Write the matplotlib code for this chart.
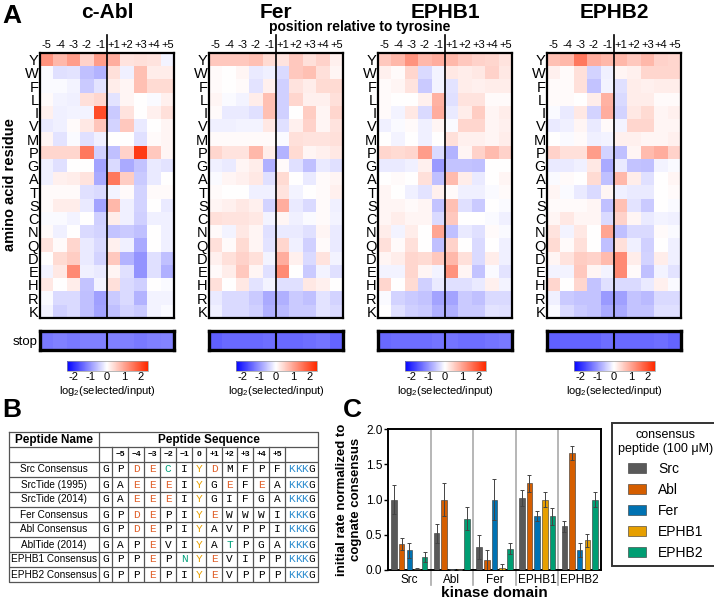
import numpy as np
import matplotlib
matplotlib.use("Agg")
import matplotlib.pyplot as plt
from matplotlib.colors import LinearSegmentedColormap

plt.rcParams['font.family'] = ['Liberation Sans', 'DejaVu Sans']
plt.rcParams['mathtext.default'] = 'regular'
plt.rcParams['axes.unicode_minus'] = False

# ---------------- data ----------------
residues = list("YWFLIVMPGATSCNQDEHRK")
positions = ['-5', '-4', '-3', '-2', '-1', '+1', '+2', '+3', '+4', '+5']
kinases = ['c-Abl', 'Fer', 'EPHB1', 'EPHB2']

# log2(selected/input), rows = residues, cols = positions
abl_scores = [
    [1.2, 0.8, 1.1, 0.5, 1.1, 0.9, 0.3, 0.35, 0.3, -0.1],
    [-0.05, -0.3, -0.25, -0.6, -0.7, 0.35, -0.15, 0.7, 0.2, 0.2],
    [-0.05, -0.05, -0.1, -0.5, -0.25, 0.2, 0.1, 0.7, 0.4, 0.4],
    [0.05, -0.1, -0.15, 0.35, 0.45, -0.25, 0.1, 0.0, -0.05, 0.15],
    [0.15, -0.15, -0.1, -0.1, 2.0, -0.5, 0.3, 0.0, 0.15, 0.35],
    [-0.2, -0.15, 0.05, 0.25, 0.65, -0.4, 0.6, -0.2, 0.0, 0.1],
    [0.1, -0.25, -0.05, -0.3, -0.15, 0.0, 0.0, -0.3, 0.05, 0.1],
    [0.45, 0.45, 0.45, 1.5, -0.45, -0.6, 0.5, 2.2, 0.6, 0.1],
    [-0.15, -0.3, 0.0, 0.0, -0.85, -0.35, -0.8, -0.55, -0.2, -0.25],
    [-0.15, 0.15, 0.2, 0.3, -0.8, 1.5, 0.55, -0.5, -0.2, 0.0],
    [0.05, 0.05, 0.05, -0.3, -0.35, -0.1, 0.05, -0.4, 0.05, 0.05],
    [0.05, 0.2, 0.2, -0.2, -0.85, 0.8, -0.15, -0.4, 0.0, -0.2],
    [-0.05, -0.05, -0.1, 0.0, -0.45, 0.2, -0.15, -0.45, -0.15, -0.15],
    [0.05, -0.15, 0.0, -0.35, -0.4, -0.55, -0.5, -0.6, 0.0, -0.15],
    [0.3, 0.05, 0.45, -0.2, -0.35, 0.15, -0.15, -0.8, 0.0, -0.15],
    [0.0, 0.4, 0.55, -0.2, -0.4, 0.6, -0.7, -1.0, -0.3, -0.6],
    [-0.1, 0.25, 1.3, -0.15, -0.2, 0.1, -0.3, -1.0, -0.3, -0.75],
    [0.25, 0.0, 0.2, -0.55, -0.1, 0.35, -0.35, -0.45, 0.0, -0.05],
    [-0.05, -0.35, -0.35, -0.6, -0.9, -0.5, -0.35, -0.7, -0.1, -0.1],
    [-0.1, -0.45, -0.35, -0.6, -0.85, -0.6, -0.4, -0.5, -0.1, -0.05],
]
fer_scores = [
    [0.6, 0.6, 0.6, 0.7, 0.4, 0.3, 0.6, 0.35, 0.5, 0.15],
    [0.05, 0.0, 0.1, -0.2, -0.15, -0.35, 0.6, 0.7, 0.35, 0.1],
    [0.05, 0.0, 0.05, -0.25, 0.15, -0.45, 0.3, 0.2, 0.4, 0.4],
    [0.1, -0.05, -0.1, 0.2, 0.7, -0.45, 0.45, 0.15, 0.15, 0.35],
    [0.05, -0.2, -0.2, -0.3, 0.7, -0.45, 0.0, 0.55, 0.1, 0.45],
    [-0.15, -0.15, -0.1, -0.1, 0.25, -0.3, 0.15, 0.5, 0.1, 0.3],
    [0.05, 0.05, 0.05, 0.05, 0.05, -0.05, 0.35, 0.3, 0.3, 0.35],
    [0.45, 0.3, 0.3, 0.8, 0.2, -0.7, 0.4, 0.1, 0.15, 0.25],
    [-0.15, -0.2, 0.1, 0.2, -0.75, 0.05, -0.3, -0.6, -0.2, -0.3],
    [-0.05, 0.1, 0.15, 0.25, -0.3, 0.4, 0.0, -0.2, 0.05, 0.1],
    [0.05, 0.0, 0.0, -0.15, -0.15, 0.3, -0.1, 0.0, 0.05, 0.15],
    [0.1, 0.15, 0.25, 0.15, -0.4, 0.9, -0.2, -0.35, 0.05, -0.15],
    [0.35, 0.3, 0.3, 0.25, -0.1, 0.1, -0.15, -0.05, 0.05, -0.1],
    [0.05, -0.1, 0.25, 0.1, -0.3, -0.2, -0.2, -0.3, 0.1, -0.2],
    [0.35, 0.05, 0.4, 0.1, -0.25, 0.45, -0.15, -0.45, 0.05, -0.2],
    [0.15, 0.35, 0.5, 0.35, -0.1, 0.9, 0.15, -0.35, 0.3, -0.1],
    [0.05, 0.2, 0.6, 0.1, -0.3, 1.3, 0.0, -0.5, -0.1, -0.3],
    [0.35, 0.0, 0.25, -0.25, -0.1, -0.3, -0.3, 0.25, 0.15, 0.0],
    [-0.2, -0.35, -0.35, -0.5, -0.8, -0.75, -0.5, -0.6, -0.25, -0.4],
    [-0.15, -0.35, -0.35, -0.45, -0.75, -0.65, -0.5, -0.5, -0.25, -0.35],
]
ephb1_scores = [
    [0.6, 0.8, 1.2, 0.8, 0.9, 0.8, 0.6, 0.5, 0.45, 0.3],
    [0.15, 0.05, 0.45, -0.35, -0.1, 0.25, 0.2, 0.25, 0.5, 0.25],
    [0.05, 0.1, 0.3, -0.5, -0.1, -0.25, 0.2, 0.15, 0.2, 0.2],
    [0.05, 0.0, 0.0, 0.15, 0.85, -0.3, 0.3, 0.3, 0.05, 0.05],
    [0.05, -0.1, 0.25, -0.35, 0.9, -0.2, 0.2, 0.55, 0.1, 0.2],
    [-0.15, -0.05, 0.05, -0.15, 0.1, -0.05, 0.45, 0.45, 0.1, 0.15],
    [0.0, -0.1, 0.0, -0.15, 0.0, 0.35, 0.15, 0.15, 0.1, 0.2],
    [0.45, 0.4, 0.45, 1.1, -0.35, -0.7, 0.1, 0.5, 0.75, 0.5],
    [-0.2, -0.2, -0.15, 0.15, -0.95, -0.55, -0.55, -0.6, 0.0, 0.0],
    [0.0, 0.05, 0.0, 0.35, -0.6, 0.75, 0.2, -0.2, 0.0, 0.1],
    [0.1, 0.0, -0.15, -0.25, 0.15, 0.05, -0.15, -0.15, -0.05, 0.05],
    [0.1, 0.1, 0.05, 0.1, -0.55, 0.7, -0.3, -0.5, 0.0, -0.05],
    [0.1, 0.2, 0.1, 0.1, -0.35, 0.6, 0.0, 0.0, -0.05, -0.15],
    [0.2, -0.1, 0.2, 0.0, 1.0, -0.6, -0.2, -0.3, 0.05, -0.05],
    [0.35, 0.05, 0.35, 0.0, -0.6, 0.5, 0.0, -0.35, 0.0, -0.15],
    [0.1, 0.2, 0.45, 0.4, 0.6, 0.8, 0.35, -0.35, 0.2, -0.15],
    [-0.1, -0.1, 0.45, 0.1, -0.1, 1.2, 0.1, -0.55, -0.05, -0.25],
    [0.45, 0.0, 0.4, -0.45, -0.2, -0.3, -0.3, -0.2, 0.15, -0.1],
    [-0.05, -0.4, -0.5, -0.55, -0.85, -0.85, -0.5, -0.6, -0.35, -0.35],
    [0.0, -0.3, -0.45, -0.5, -0.75, -0.75, -0.5, -0.5, -0.25, -0.3],
]
ephb2_scores = [
    [0.7, 0.8, 1.5, 0.9, 0.8, 0.8, 0.6, 0.8, 0.5, 0.45],
    [0.15, 0.05, 0.35, -0.4, -0.15, 0.1, 0.15, 0.45, 0.45, 0.45],
    [0.05, 0.05, 0.35, -0.55, -0.1, -0.3, 0.2, 0.15, 0.2, 0.2],
    [0.05, 0.05, 0.0, 0.2, 0.85, -0.35, 0.2, 0.2, 0.05, 0.05],
    [-0.05, -0.2, 0.25, -0.4, 0.9, -0.4, 0.25, 0.4, 0.1, 0.15],
    [-0.2, -0.15, 0.1, -0.2, 0.05, -0.1, 0.45, 0.45, 0.1, 0.1],
    [0.0, -0.05, 0.05, -0.15, -0.1, 0.15, 0.15, 0.1, 0.1, 0.15],
    [0.5, 0.35, 0.35, 1.1, -0.4, -0.6, 0.1, 0.75, 0.9, 0.5],
    [-0.2, -0.2, -0.15, 0.25, -0.8, -0.2, -0.55, -0.6, -0.1, -0.05],
    [-0.05, 0.05, 0.0, 0.4, -0.6, 0.8, 0.2, -0.3, 0.0, 0.1],
    [0.1, -0.05, -0.2, -0.35, 0.1, -0.15, -0.2, -0.2, 0.0, 0.05],
    [0.05, 0.05, 0.05, 0.1, -0.6, 0.7, -0.25, -0.5, 0.0, -0.05],
    [0.1, 0.25, 0.1, 0.1, -0.35, 0.5, 0.1, -0.2, -0.1, -0.15],
    [0.3, -0.1, 0.25, 0.0, 1.0, -0.6, -0.35, -0.35, 0.05, -0.05],
    [0.4, 0.05, 0.35, 0.0, -0.6, 0.35, -0.15, -0.45, 0.0, -0.15],
    [0.1, 0.3, 0.55, 0.5, 0.75, 1.3, 0.2, -0.4, 0.2, -0.15],
    [-0.1, -0.1, 0.6, 0.1, -0.1, 1.3, 0.05, -0.6, -0.1, -0.25],
    [0.45, 0.0, 0.45, -0.55, -0.3, -0.35, -0.35, -0.2, 0.15, -0.05],
    [-0.15, -0.5, -0.55, -0.55, -0.95, -0.9, -0.55, -0.65, -0.35, -0.35],
    [-0.05, -0.35, -0.5, -0.55, -0.8, -0.8, -0.55, -0.55, -0.3, -0.3],
]
abl_stop = [-1.25, -1.2, -1.25, -1.2, -1.2, -1.2, -1.2, -1.25, -1.2, -1.15]
fer_stop = [-1.5, -1.4, -1.4, -1.4, -1.35, -1.4, -1.4, -1.35, -1.3, -1.45]
ephb1_stop = [-1.4, -1.35, -1.35, -1.35, -1.3, -1.3, -1.35, -1.35, -1.3, -1.25]
ephb2_stop = [-1.5, -1.45, -1.45, -1.45, -1.35, -1.4, -1.4, -1.4, -1.35, -1.45]

# table B
peptide_names = ['Src Consensus', 'SrcTide (1995)', 'SrcTide (2014)', 'Fer Consensus',
                 'Abl Consensus', 'AblTide (2014)', 'EPHB1 Consensus', 'EPHB2 Consensus']
peptide_seqs = ['GPDECIYDMFPF', 'GAEEEIYGEFEA', 'GAEEEIYGIFGA', 'GPDEPIYEWWWI',
                'GPDEPIYAVPPI', 'GAPEVIYATPGA', 'GPPEPNYEVIPP', 'GPPEPIYEVPPP']
peptide_tail = 'KKKG'
seq_positions = ['', '\u22125', '\u22124', '\u22123', '\u22122', '\u22121', '0',
                 '+1', '+2', '+3', '+4', '+5', '']

# panel C
kinase_domains = ['Src', 'Abl', 'Fer', 'EPHB1', 'EPHB2']
peptides = ['Src', 'Abl', 'Fer', 'EPHB1', 'EPHB2']
rate_src = [1.00, 0.52, 0.32, 1.02, 0.62]
rate_abl = [0.37, 1.00, 0.14, 1.23, 1.66]
rate_fer = [0.28, 0.01, 1.00, 0.76, 0.28]
rate_ephb1 = [0.02, 0.01, 0.03, 1.00, 0.42]
rate_ephb2 = [0.18, 0.73, 0.30, 0.76, 1.00]
err_src = [0.20, 0.13, 0.17, 0.11, 0.08]
err_abl = [0.09, 0.24, 0.15, 0.12, 0.10]
err_fer = [0.11, 0.01, 0.29, 0.07, 0.10]
err_ephb1 = [0.01, 0.01, 0.05, 0.11, 0.09]
err_ephb2 = [0.07, 0.16, 0.08, 0.12, 0.11]
bar_colors = ['#595959', '#D55E00', '#0072B2', '#E69F00', '#009E73']

# ---------------- figure ----------------
W, H = 714, 601
fig = plt.figure(figsize=(W / 100, H / 100), dpi=100)


def px(x, y, w, h):
    return [x / W, 1 - (y + h) / H, w / W, h / H]


cmap = LinearSegmentedColormap.from_list('bwr_', ['#0000FF', '#FFFFFF', '#FF2A00'])
vlim = 2.4

fig.text(2 / W, 1 - 16 / H, 'A', fontsize=19, fontweight='bold', va='center')
fig.text(360 / W, 1 - 27 / H, 'position relative to tyrosine', fontsize=10,
         fontweight='bold', ha='center', va='center')
fig.text(10 / W, 1 - 185 / H, 'amino acid residue', fontsize=10.5, fontweight='bold',
         rotation=90, ha='center', va='center')

hm_left = [40, 209, 378, 547]
all_scores = [abl_scores, fer_scores, ephb1_scores, ephb2_scores]
all_stop = [abl_stop, fer_stop, ephb1_stop, ephb2_stop]
for k in range(4):
    x0 = hm_left[k]
    ax = fig.add_axes(px(x0, 53, 134, 265))
    im = ax.imshow(np.array(all_scores[k]), cmap=cmap, vmin=-vlim, vmax=vlim, aspect='auto')
    ax.set_xticks(range(10))
    ax.set_xticklabels(positions, fontsize=8)
    ax.xaxis.tick_top()
    ax.tick_params(axis='x', length=0, pad=2)
    ax.set_yticks(range(20))
    ax.set_yticklabels(residues, fontsize=10.5)
    ax.tick_params(axis='y', length=0, pad=1)
    for s in ax.spines.values():
        s.set_linewidth(1.6)
    ax.axvline(4.5, 0, 1 + 18 / 265, color='k', lw=1.2, clip_on=False)
    fig.text((x0 + 67) / W, 1 - 13 / H, kinases[k], fontsize=15, fontweight='bold',
             ha='center', va='center')

    sax = fig.add_axes(px(x0, 331, 134, 19))
    sax.imshow(np.array([all_stop[k]]), cmap=cmap, vmin=-vlim, vmax=vlim, aspect='auto')
    sax.set_xticks([])
    if k == 0:
        sax.set_yticks([0])
        sax.set_yticklabels(['stop'], fontsize=9.5)
        sax.tick_params(axis='y', length=0, pad=2)
    else:
        sax.set_yticks([])
    for s in sax.spines.values():
        s.set_linewidth(2.4)
    sax.axvline(4.5, color='k', lw=1.5)

    cax = fig.add_axes(px(x0 + 67 - 40.5, 361, 81, 10))
    cb = fig.colorbar(im, cax=cax, orientation='horizontal', ticks=[-2, -1, 0, 1, 2])
    cb.ax.tick_params(length=0, labelsize=8, pad=1)
    cb.outline.set_linewidth(0.5)
    cb.outline.set_edgecolor('#999999')
    cb.set_label('log$_2$(selected/input)', fontsize=8, labelpad=1)

# ---------------- panel B: table ----------------
fig.text(2 / W, 1 - 410 / H, 'B', fontsize=19, fontweight='bold', va='center')
tax = fig.add_axes(px(9, 432, 309, 150))
tax.set_xlim(9, 318)
tax.set_ylim(582, 432)
tax.axis('off')
col_edges = [99, 112, 128, 144, 160, 176, 192, 206, 222, 237, 253, 269, 285, 318]
line_kw = dict(color='#555555', lw=0.9)
tax.plot([9, 318, 318, 9, 9], [432, 432, 582, 582, 432], **line_kw, clip_on=False)
tax.plot([99, 99], [432, 582], **line_kw)
for yy in [447] + [462 + 15 * i for i in range(8)]:
    tax.plot([9, 318], [yy, yy], **line_kw)
for xe in col_edges[1:-1]:
    tax.plot([xe, xe], [447, 582], **line_kw)
tax.text(54, 440, 'Peptide Name', fontsize=8.5, fontweight='bold', ha='center', va='center')
tax.text(208.5, 440, 'Peptide Sequence', fontsize=8.5, fontweight='bold', ha='center', va='center')
centers = [(col_edges[i] + col_edges[i + 1]) / 2 for i in range(len(col_edges) - 1)]
for c, lab in zip(centers, seq_positions):
    if lab:
        tax.text(c, 455, lab, fontsize=6, fontweight='bold', ha='center', va='center')


def res_color(ch):
    if ch in 'DE':
        return '#E0602A'
    if ch in 'CNT':
        return '#00A07A'
    if ch == 'Y':
        return '#E8A000'
    return 'black'


mono = 'Liberation Mono'
char_w = 6.6
for r, (name, seq) in enumerate(zip(peptide_names, peptide_seqs)):
    yc = 469.5 + 15 * r
    tax.text(54, yc, name, fontsize=7.2, ha='center', va='center')
    for i, ch in enumerate(seq):
        tax.text(centers[i], yc, ch, fontsize=8, family=mono, color=res_color(ch),
                 ha='center', va='center')
    for i, ch in enumerate(peptide_tail):
        xc = centers[-1] + (i - 1.5) * char_w
        tax.text(xc, yc, ch, fontsize=8, family=mono,
                 color='#2B8CCF' if ch == 'K' else 'black', ha='center', va='center')

# ---------------- panel C: bars ----------------
fig.text(343 / W, 1 - 410 / H, 'C', fontsize=19, fontweight='bold', va='center')
bax = fig.add_axes(px(388, 429, 213, 141))
rates = [rate_src, rate_abl, rate_fer, rate_ephb1, rate_ephb2]
errs = [err_src, err_abl, err_fer, err_ephb1, err_ephb2]
x = np.arange(len(kinase_domains))
handles = []
for j in range(5):
    xs = x + (j - 2) * 0.18
    b = bax.bar(xs, rates[j], width=0.13, color=bar_colors[j], edgecolor='#333333',
                linewidth=0.4, label=peptides[j], zorder=3)
    bax.errorbar(xs, rates[j], yerr=errs[j], fmt='none', ecolor='#444444',
                 elinewidth=0.7, capsize=1.5, capthick=0.7, zorder=4)
    handles.append(b)
for sep in [0.5, 1.5, 2.5, 3.5]:
    bax.axvline(sep, -0.106, 1, color='#AAAAAA', lw=1.2, clip_on=False, zorder=1)
bax.set_xlim(-0.5, 4.5)
bax.set_ylim(0, 2)
bax.set_yticks([0, 0.5, 1.0, 1.5, 2.0])
bax.set_yticklabels(['0.0', '0.5', '1.0', '1.5', '2.0'], fontsize=8.5)
bax.set_xticks(x)
bax.set_xticklabels(kinase_domains, fontsize=8.5)
bax.tick_params(axis='x', length=0, pad=3)
bax.tick_params(axis='y', length=3, width=1, pad=1)
for s in bax.spines.values():
    s.set_linewidth(1.4)
bax.set_xlabel('kinase domain', fontsize=11, fontweight='bold', labelpad=0)
bax.set_ylabel('initial rate normalized to\ncognate consensus', fontsize=9.5,
               fontweight='bold', labelpad=3)

leg = fig.legend(handles=handles, labels=peptides, title='consensus\npeptide (100 \u03bcM)',
                 loc='upper left', bbox_to_anchor=(612 / W, 1 - 423 / H), borderaxespad=0,
                 fontsize=10, title_fontsize=9, frameon=True, fancybox=False,
                 handlelength=1.3, handleheight=0.8, labelspacing=0.5, handletextpad=0.9,
                 borderpad=0.45)
leg.get_frame().set_edgecolor('black')
leg.get_frame().set_linewidth(1.4)
leg.get_title().set_multialignment('center')

fig.savefig('out.png', dpi=100)
